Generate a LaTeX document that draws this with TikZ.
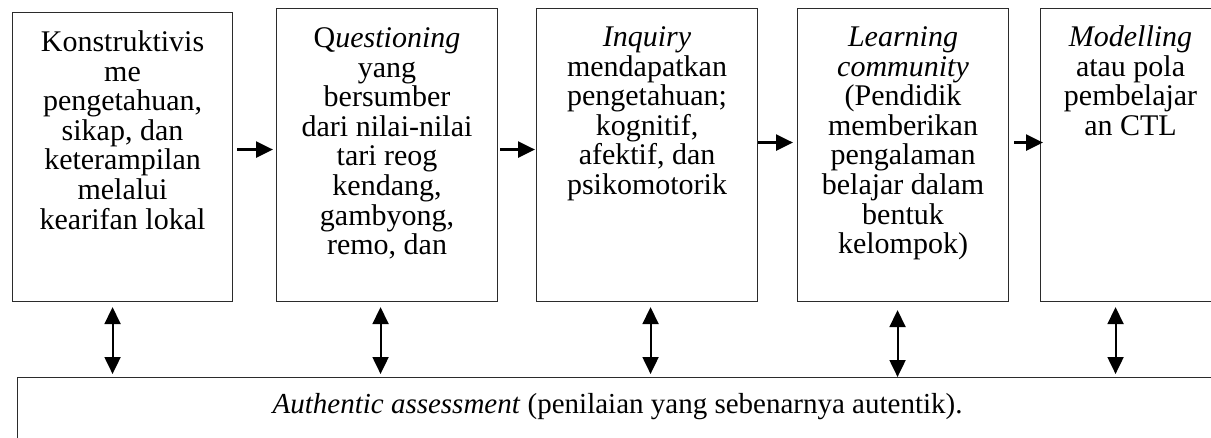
\documentclass[tikz,border=0pt]{standalone}
\usepackage{fontspec}
\setmainfont{Liberation Serif}
\usepackage{tikz}
\usetikzlibrary{arrows.meta}
\definecolor{frameline}{HTML}{2B2B2B}
\definecolor{inkblack}{HTML}{000000}

\begin{document}
\begin{tikzpicture}[
  x=1pt,y=-1pt,
  font=\fontsize{30}{29.6}\selectfont,
  stage/.style={draw=frameline,line width=1.1pt,inner sep=0pt,anchor=north west},
  flow/.style={-{Triangle[length=17pt,width=16pt]},line width=2.6pt,draw=inkblack},
  both/.style={{Triangle[length=17pt,width=16pt]}-{Triangle[length=17pt,width=16pt]},
               line width=2pt,draw=inkblack,shorten <=5pt,shorten >=3pt}
]
\useasboundingbox (0,0) rectangle (1211,437);
\clip (0,0) rectangle (1211,437);

%------ row 1 : the five CTL stages -------------------------------------------
\node[stage] (konst) at (12,12) {\parbox[c][289pt][t]{220pt}{\centering\rule{0pt}{39pt}Konstruktivis\\me\\pengetahuan,\\sikap, dan\\keterampilan\\melalui\\kearifan lokal}};
\node[stage] (quest) at (276,8) {\parbox[c][293pt][t]{221pt}{\centering\rule{0pt}{39pt}Q\textit{uestioning}\\yang\\bersumber\\dari nilai-nilai\\tari reog\\kendang,\\gambyong,\\remo, dan}};
\node[stage] (inq)   at (536,8) {\parbox[c][293pt][t]{221pt}{\centering\rule{0pt}{38pt}\textit{Inquiry}\\mendapatkan\\pengetahuan;\\kognitif,\\afektif, dan\\psikomotorik}};
\node[stage] (lcom)  at (797,8) {\parbox[c][293pt][t]{211pt}{\centering\rule{0pt}{38pt}\textit{Learning}\\\textit{community}\\(Pendidik\\memberikan\\pengalaman\\belajar dalam\\bentuk\\kelompok)}};
\node[stage] (model) at (1040,8) {\parbox[c][293pt][t]{180pt}{\centering\rule{0pt}{38pt}\textit{Modelling}\\atau pola\\pembelajar\\an CTL}};

%------ row 2 : assessment bar ------------------------------------------------
\node[stage,font=\fontsize{29}{30}\selectfont,minimum width=1200pt,text height=36pt,text depth=30pt] (auth) at (17,377)
      {\textit{Authentic assessment} (penilaian yang sebenarnya autentik).};

%------ stage to stage --------------------------------------------------------
\draw[flow] ([xshift=4pt,yshift=7.5pt]konst.east) -- ([xshift=-3pt,yshift=5.5pt]quest.west);
\draw[flow] ([xshift=2pt,yshift=5.5pt]quest.east) -- ([xshift=-1pt,yshift=5.5pt]inq.west);
\draw[flow] ([yshift=12.5pt]inq.east) -- ([xshift=-4pt,yshift=12.5pt]lcom.west);
\draw[flow] ([xshift=5pt,yshift=12.5pt]lcom.east) -- ([xshift=3pt,yshift=12.5pt]model.west);

%------ stages <-> assessment -------------------------------------------------
\draw[both] ([xshift=-10pt]konst.south) -- ([xshift=-10pt]konst.south |- auth.north);
\draw[both] ([xshift=-6.5pt]quest.south) -- ([xshift=-6.5pt]quest.south |- auth.north);
\draw[both] ([xshift=3.5pt]inq.south) -- ([xshift=3.5pt]inq.south |- auth.north);
\draw[both,shorten <=8pt,shorten >=0pt] ([xshift=-5.5pt]lcom.south) -- ([xshift=-5.5pt]lcom.south |- auth.north);
\draw[both] ([xshift=-15pt]model.south) -- ([xshift=-15pt]model.south |- auth.north);
\end{tikzpicture}
\end{document}
